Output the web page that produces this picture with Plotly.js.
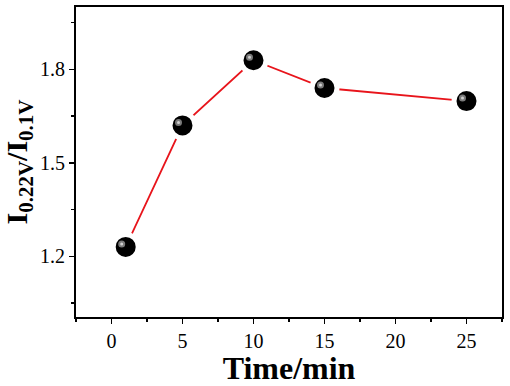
<!DOCTYPE html>
<html>
<head>
<meta charset="utf-8">
<script src="https://cdn.plot.ly/plotly-3.0.1.min.js"></script>
<style>html,body{margin:0;padding:0;background:#fff;}#chart{width:510px;height:386px;}</style>
</head>
<body>
<div id="chart"></div>
<script>
const timeMin = [1, 5, 10, 15, 25];
const ratio = [1.23, 1.62, 1.829, 1.74, 1.698];
const xTickVals = [0, 5, 10, 15, 20, 25];
const yTickVals = [1.2, 1.5, 1.8];
const yTickText = ['1.2', '1.5', '1.8'];

const FONT = '"Liberation Serif", "Times New Roman", Times, serif';

const trace = {
  x: timeMin, y: ratio,
  mode: 'lines+markers',
  type: 'scatter',
  line: {color: '#e8141b', width: 1.8},
  marker: {size: 25, color: '#000', line: {color: '#fff', width: 5}},
  hoverinfo: 'none',
  cliponaxis: false
};

// specular highlight on each sphere, anchored at the data points
const shapes = [];
timeMin.forEach((xv, i) => {
  shapes.push({type: 'circle', xref: 'x', yref: 'y', xsizemode: 'pixel', ysizemode: 'pixel',
    xanchor: xv, yanchor: ratio[i], x0: -7.5, x1: -0.5, y0: -0.5, y1: 6.5,
    fillcolor: '#7a7a7a', line: {width: 0}, layer: 'above'});
  shapes.push({type: 'circle', xref: 'x', yref: 'y', xsizemode: 'pixel', ysizemode: 'pixel',
    xanchor: xv, yanchor: ratio[i], x0: -5.5, x1: -2.5, y0: 1.5, y1: 4.5,
    fillcolor: '#d0d0d0', line: {width: 0}, layer: 'above'});
});

const layout = {
  width: 510, height: 386,
  margin: {l: 76, r: 8, t: 7, b: 69},
  paper_bgcolor: '#fff', plot_bgcolor: '#fff',
  showlegend: false,
  font: {family: FONT, color: '#000', size: 20},
  shapes: shapes,
  xaxis: {
    range: [-2.5, 27.5],
    tickvals: xTickVals,
    ticks: 'outside', ticklen: 5, tickwidth: 1.5, tickcolor: '#000',
    minor: {dtick: 2.5, tick0: 0, ticks: 'outside', ticklen: 3, tickwidth: 1.5, tickcolor: '#000'},
    showline: true, linewidth: 2, linecolor: '#000', mirror: true,
    showgrid: false, zeroline: false,
    tickfont: {family: FONT, size: 20, color: '#000', weight: 'normal'},
    title: {text: 'Time/min', font: {family: FONT, size: 32, color: '#000', weight: 'bold'}, standoff: 3}
  },
  yaxis: {
    range: [1.005, 2.0],
    tickvals: yTickVals, ticktext: yTickText,
    ticks: 'outside', ticklen: 5, tickwidth: 1.5, tickcolor: '#000',
    minor: {dtick: 0.15, tick0: 1.05, ticks: 'outside', ticklen: 3, tickwidth: 1.5, tickcolor: '#000'},
    showline: true, linewidth: 2, linecolor: '#000', mirror: true,
    showgrid: false, zeroline: false,
    tickfont: {family: FONT, size: 20, color: '#000', weight: 'normal'},
    title: {text: 'I<sub>0.22V</sub>/I<sub>0.1V</sub>', font: {family: FONT, size: 30, color: '#000', weight: 'bold'}, standoff: 4}
  }
};

Plotly.newPlot('chart', [trace], layout, {staticPlot: true, displayModeBar: false});
</script>
</body>
</html>
